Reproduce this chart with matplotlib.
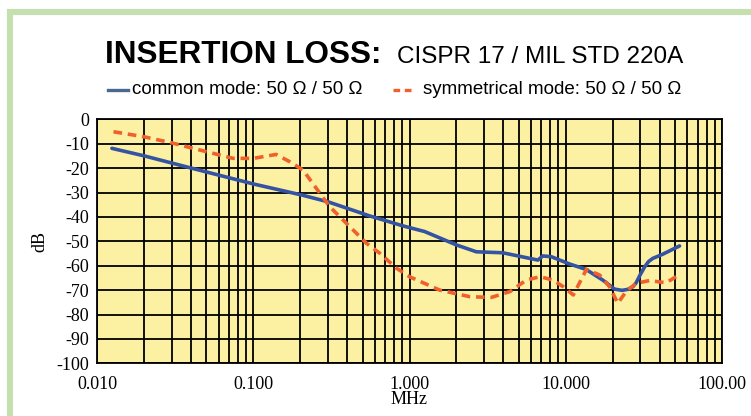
import numpy as np
import matplotlib
matplotlib.use('Agg')
import matplotlib.pyplot as plt
from matplotlib.lines import Line2D
from matplotlib.patches import Rectangle

#Data (frequency in MHz, loss in dB)
common_f = [0.0124, 0.02, 0.04, 0.1, 0.203, 0.30, 0.556, 0.91, 1.25, 2.0, 2.68, 3.96,
            6.64, 7.15, 8.09, 10.6, 13.5, 17.3, 20.6, 23.0, 25.0, 27.0, 28.3, 30.0, 32.0,
            34.0, 36.2, 41.9, 53.7]
common_db = [-11.9, -15.0, -20.0, -26.5, -31.0, -33.8, -39.6, -43.7, -46.0, -51.5, -54.3, -54.7,
             -57.7, -56.0, -56.3, -59.3, -61.5, -65.9, -69.6, -70.1, -69.7, -68.6, -67.0, -63.8, -60.6,
             -58.3, -57.0, -55.3, -51.9]

sym_f = [0.0127, 0.0197, 0.0306, 0.0454, 0.074, 0.1, 0.14, 0.171, 0.208, 0.253, 0.308, 0.394,
         0.53, 0.645, 0.824, 1.0, 1.56, 2.43, 3.34, 4.4, 5.6, 6.86, 8.3, 9.66, 11.2, 13.6,
         16.5, 19.1, 21.6, 24.4, 28.3, 34.4, 44.1, 51.0]
sym_db = [-5.1, -7.1, -9.8, -12.6, -16.0, -16.0, -14.4, -17.4, -20.8, -28.3, -35.8, -42.6,
          -50.8, -54.9, -61.0, -64.5, -70.0, -72.7, -73.0, -70.6, -65.9, -64.5, -65.9, -68.6, -72.0, -61.5,
          -63.8, -68.6, -75.4, -70.6, -67.2, -66.1, -67.0, -64.5]

x_ticks = [0.01, 0.1, 1, 10, 100]
x_ticklabels = ['0.010', '0.100', '1.000', '10.000', '100.00']
y_ticks = list(range(0, -101, -10))

BLUE = '#3553a3'
ORANGE = '#f0602c'
YELLOW = '#fcf1a2'
GREEN = '#c5dfae'

W, H = 751, 416
fig = plt.figure(figsize=(W / 100, H / 100), dpi=100)

#axes placed in pixel terms
left, right, top, bottom = 97.3, 721.7, 119.3, 363.3
ax = fig.add_axes([left / W, 1 - bottom / H, (right - left) / W, (bottom - top) / H])
ax.set_facecolor(YELLOW)
ax.set_xscale('log')
ax.set_xlim(0.01, 100)
ax.set_ylim(-100, 0)

ax.grid(True, which='both', axis='x', color='black', linewidth=1.3)
ax.grid(True, which='major', axis='y', color='black', linewidth=1.3)
ax.set_axisbelow(True)

ax.plot(common_f, common_db, color=BLUE, linewidth=2.6, solid_capstyle='round',
        solid_joinstyle='round', zorder=3)
ax.plot(sym_f, sym_db, color=ORANGE, linewidth=2.6, linestyle=(0, (2.4, 1.6)), zorder=3)

serif = 'Liberation Serif'
ax.set_xticks(x_ticks)
ax.set_xticklabels(x_ticklabels, fontfamily=serif, fontsize=13)
ax.set_yticks(y_ticks)
ax.set_yticklabels([str(v) for v in y_ticks], fontfamily=serif, fontsize=13)
ax.xaxis.set_minor_formatter(plt.NullFormatter())
ax.tick_params(which='both', length=0)
ax.tick_params(axis='x', pad=9)
ax.tick_params(axis='y', pad=6)
ax.set_xlabel('MHz', fontfamily=serif, fontsize=13, labelpad=-1)
ax.set_ylabel('dB', fontfamily=serif, fontsize=13, labelpad=6)
for s in ax.spines.values():
    s.set_color('black')
    s.set_linewidth(1.3)

#green frame (runs off right and bottom edges)
fig.add_artist(Rectangle((10 / W, -0.2), 1.2, 1 - 12.3 / H + 0.2, transform=fig.transFigure,
                         fill=False, edgecolor=GREEN, linewidth=4.4))

#title
sans = 'Liberation Sans'
fig.text(105 / W, 1 - 63 / H, 'INSERTION LOSS:', fontfamily=sans, fontweight='bold',
         fontsize=22.7, ha='left', va='baseline')
fig.text(397 / W, 1 - 63 / H, 'CISPR 17 / MIL STD 220A', fontfamily=sans,
         fontsize=17.5, ha='left', va='baseline')

#legend
ly = 1 - 90 / H
fig.add_artist(Line2D([108 / W, 128 / W], [ly, ly], color='#4a6990', linewidth=2.4,
                      transform=fig.transFigure))
fig.text(132 / W, ly, 'common mode: 50 Ω / 50 Ω', fontfamily=sans, fontsize=13.5,
         ha='left', va='center')
fig.add_artist(Line2D([393 / W, 415 / W], [ly, ly], color=ORANGE, linewidth=2.4,
                      linestyle=(0, (2.0, 1.4)), transform=fig.transFigure))
fig.text(423 / W, ly, 'symmetrical mode: 50 Ω / 50 Ω', fontfamily=sans, fontsize=13.5,
         ha='left', va='center')

fig.savefig('out.png', dpi=100, facecolor='white')
